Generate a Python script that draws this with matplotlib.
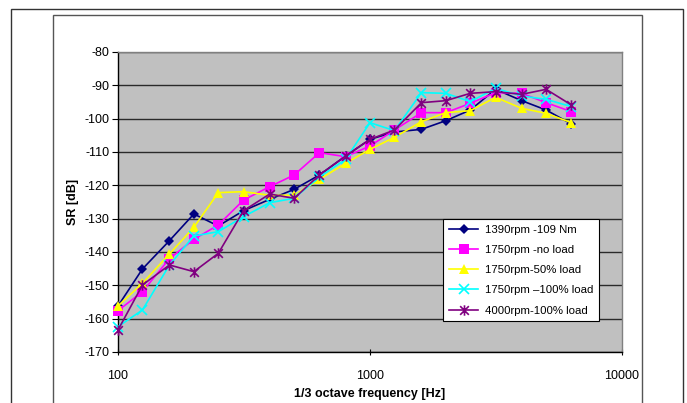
import matplotlib
matplotlib.use("Agg")
import matplotlib.pyplot as plt
from matplotlib.patches import Rectangle
from matplotlib.path import Path
from matplotlib.ticker import FixedLocator, NullLocator, FixedFormatter

plt.rcParams['font.family'] = ['Liberation Sans', 'DejaVu Sans']

freq = [100, 125, 160, 200, 250, 315, 400, 500, 630, 800, 1000, 1250,
        1600, 2000, 2500, 3150, 4000, 5000, 6300]

s1390_109 = [-156.2, -145.1, -136.6, -128.6, -132.2, -127.6, -124.2, -121.2, -116.9,
             -111.2, -106.2, -104.0, -103.2, -100.6, -97.4, -91.2, -94.6, -97.4, -101.6]
s1750_noload = [-157.6, -151.9, -142.0, -136.2, -131.9, -124.4, -120.4, -116.9, -110.2,
                -111.4, -108.2, -103.4, -98.2, -98.2, -95.4, -92.2, -92.4, -95.2, -97.9]
s1750_50 = [-156.2, -149.4, -140.6, -132.6, -122.2, -121.9, -123.0, -123.0, -118.2,
            -113.4, -109.2, -105.6, -100.9, -98.2, -97.6, -93.6, -96.9, -98.4, -101.2]
s1750_100 = [-162.4, -157.4, -143.9, -135.2, -133.9, -129.4, -125.2, -123.9, -117.5,
             -112.2, -101.2, -103.6, -92.2, -92.4, -94.9, -90.9, -93.2, -94.2, -96.4]
s4000_100 = [-163.4, -149.9, -143.9, -145.9, -140.4, -127.6, -122.6, -123.9, -116.9,
             -111.2, -106.2, -103.4, -95.2, -94.6, -92.4, -91.9, -92.7, -91.2, -95.9]

labels = ['1390rpm -109 Nm', '1750rpm -no load', '1750rpm-50% load',
          '1750rpm \u2013100% load', '4000rpm-100% load']
yticks = [-170, -160, -150, -140, -130, -120, -110, -100, -90, -80]
xticks = [100, 1000, 10000]
xtick_labels = ['100', '1000', '10000']

W, H = 687, 403
fig = plt.figure(figsize=(W / 100, H / 100), dpi=100)
fig.patch.set_facecolor('white')

# frames
fig.patches.append(Rectangle((11 / W, -0.05), (683 - 11) / W, (H - 9) / H + 0.05,
                             transform=fig.transFigure, fill=False, edgecolor='#333333', lw=1.0))
fig.patches.append(Rectangle((53 / W, -0.05), (642 - 53) / W, (H - 15) / H + 0.05,
                             transform=fig.transFigure, fill=False, edgecolor='#555555', lw=1.0))

L, R, T, B = 118, 622, 52, 352
ax = fig.add_axes([L / W, 1 - B / H, (R - L) / W, (B - T) / H])
ax.set_facecolor('#C0C0C0')

star = Path([(-1, -1), (1, 1), (-1, 1), (1, -1), (0, -1.2), (0, 1.2)],
            [Path.MOVETO, Path.LINETO, Path.MOVETO, Path.LINETO, Path.MOVETO, Path.LINETO])

series = [s1390_109, s1750_noload, s1750_50, s1750_100, s4000_100]
colors = ['#000080', '#FF00FF', '#FFFF00', '#00FFFF', '#800080']
markers = ['D', 's', '^', 'x', star]
msizes = [5.5, 7, 7.5, 7, 7.5]
for vals, c, m, ms, lab in zip(series, colors, markers, msizes, labels):
    if m == 'x' or m is star:
        kw = dict(markeredgewidth=1.2)
    else:
        kw = dict(markeredgewidth=0)
    ax.plot(freq, vals, color=c, lw=1.2, marker=m, markersize=ms,
            markerfacecolor=c, markeredgecolor=c, label=lab, clip_on=False, zorder=3, **kw)

ax.set_xscale('log')
ax.set_xlim(100, 10000)
ax.set_ylim(-170, -80)
ax.xaxis.set_major_locator(FixedLocator(xticks))
ax.xaxis.set_major_formatter(FixedFormatter(xtick_labels))
ax.xaxis.set_minor_locator(NullLocator())
ax.set_yticks(yticks)
ax.set_yticklabels([str(v) for v in yticks])
ax.yaxis.grid(True, color='#2a2a2a', lw=1.0)
ax.set_axisbelow(True)

for side in ('top', 'right'):
    ax.spines[side].set_color('#808080')
    ax.spines[side].set_linewidth(1.0)
for side in ('left', 'bottom'):
    ax.spines[side].set_color('black')
    ax.spines[side].set_linewidth(1.0)

ax.tick_params(axis='both', direction='out', length=4, width=0.8, labelsize=9, colors='black')
ax.tick_params(axis='x', direction='inout', pad=11)
ax.tick_params(axis='y', pad=2)

ax.set_xlabel('1/3 octave frequency [Hz]', fontsize=9, fontweight='bold', labelpad=4)
ax.set_ylabel('SR [dB]', fontsize=9, fontweight='bold', labelpad=4)

leg = ax.legend(loc='upper left', bbox_to_anchor=((443 - L) / (R - L), 1 - (219 - T) / (B - T)),
                fontsize=8.2, frameon=True, fancybox=False, edgecolor='black',
                framealpha=1, handlelength=2.6, borderpad=0.5, labelspacing=0.9,
                handletextpad=0.6, borderaxespad=0)
leg.get_frame().set_linewidth(0.8)
leg.set_zorder(5)

fig.savefig('out.png', dpi=100, facecolor='white')
